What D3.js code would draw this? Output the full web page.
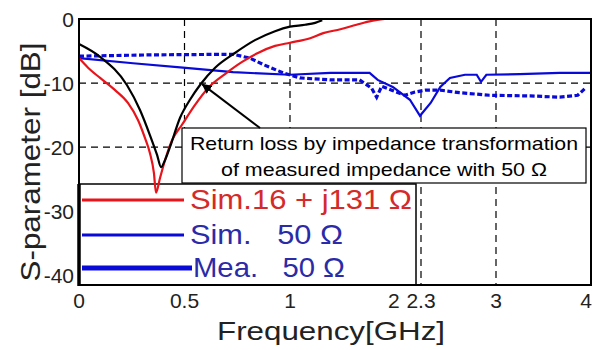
<!DOCTYPE html>
<html>
<head>
<meta charset="utf-8">
<script src="https://cdnjs.cloudflare.com/ajax/libs/d3/7.8.5/d3.min.js"></script>
<style>
body { margin: 0; background: #fff; }
svg text { font-family: "Liberation Sans", Arial, sans-serif; white-space: pre; }
</style>
</head>
<body>
<div id="chart"></div>
<script>
//Tick values and grid positions.
var freqTicks = [0, 0.5, 1, 2, 2.3, 3, 4];
var dbTicks = [0, -10, -20, -30, -40];
var gridFreqs = [0.5, 1, 2.3, 3];
var gridDbs = [-10, -20];

//Return loss by impedance transformation (black).
var transFreq = [0, 0.10, 0.227, 0.289, 0.336, 0.37, 0.389, 0.408, 0.431, 0.479, 0.526, 0.578, 0.645, 0.739, 0.834, 0.929, 1.0, 1.15, 1.25, 1.32];
var transDb = [-3.9, -5.9, -10.3, -14.2, -18.1, -21.2, -23.1, -22.0, -20.0, -15.4, -12.6, -10.1, -7.6, -5.3, -3.3, -1.9, -1.2, -0.9, -0.6, -0.2];

//Sim. 16 + j131 ohm (red).
var simZFreq = [0, 0.043, 0.10, 0.171, 0.232, 0.28, 0.313, 0.336, 0.355, 0.365, 0.384, 0.408, 0.441, 0.488, 0.55, 0.611, 0.692, 0.773, 0.848, 0.929, 1.0, 1.2, 1.33, 1.5, 1.66, 1.81, 1.94];
var simZDb = [-6.1, -7.6, -9.2, -11.1, -13.1, -15.8, -18.6, -20.9, -24.0, -27.1, -24.8, -22.0, -18.9, -16.5, -13.4, -10.8, -8.6, -6.7, -5.3, -4.2, -3.7, -3.0, -2.2, -1.6, -0.9, -0.3, 0];

//Sim. 50 ohm (blue solid).
var sim50Freq = [0, 0.256, 0.493, 0.73, 1.0, 1.4, 1.79, 1.87, 2.02, 2.19, 2.29, 2.39, 2.48, 2.57, 2.71, 2.82, 2.86, 2.91, 3.25, 3.67, 4.0];
var sim50Db = [-6.1, -6.9, -7.6, -8.3, -8.7, -8.4, -8.4, -9.5, -10.6, -12.6, -15.1, -13.1, -10.6, -9.2, -8.7, -8.7, -9.8, -8.7, -8.6, -8.4, -8.4];

//Mea. 50 ohm (blue dashed).
var mea50Freq = [0, 0.336, 0.73, 0.81, 0.88, 0.967, 1.1, 1.4, 1.69, 1.81, 1.86, 1.91, 2.01, 2.14, 2.24, 2.34, 2.48, 2.66, 2.94, 3.36, 3.67, 3.86, 3.94];
var mea50Db = [-5.8, -5.6, -5.5, -6.1, -7.2, -8.4, -9.2, -9.5, -9.5, -10.8, -12.2, -10.5, -11.1, -11.9, -11.4, -11.1, -11.1, -11.5, -11.9, -12.0, -12.2, -11.9, -10.8];

//Legend entries and annotation text.
var legendLabels = ["Sim.16 + j131 \u03A9", "Sim.\u00A0\u00A0 50 \u03A9", "Mea.\u00A0\u00A0 50 \u03A9"];
var noteLines = ["Return loss by impedance transformation", "of measured impedance with 50 \u03A9"];

var width = 599, height = 350;
var red = "#e8141c", blue = "#0a0ad8";

var svg = d3.select("#chart").append("svg")
    .attr("width", width)
    .attr("height", height);

//The frequency axis is stretched below 1 GHz.
var x = d3.scaleLinear().domain([0, 1, 2.3, 3, 4]).range([79, 290, 421, 496, 591]);
var y = d3.scaleLinear().domain([-41.5, 0]).range([285, 19]);

function pts(fs, ds) {
    return fs.map(function(f, i) { return [f, ds[i]]; });
}

var line = d3.line()
    .x(function(d) { return x(d[0]); })
    .y(function(d) { return y(d[1]); });

//Dashed grid.
svg.append("g").selectAll("line")
    .data(gridFreqs)
    .enter().append("line")
    .attr("x1", function(d) { return x(d); })
    .attr("x2", function(d) { return x(d); })
    .attr("y1", y(0)).attr("y2", y(-41.5))
    .attr("stroke", "#000").attr("stroke-width", 1.2)
    .attr("stroke-dasharray", "7,5");

svg.append("g").selectAll("line")
    .data(gridDbs)
    .enter().append("line")
    .attr("x1", x(0)).attr("x2", x(4))
    .attr("y1", function(d) { return y(d); })
    .attr("y2", function(d) { return y(d); })
    .attr("stroke", "#000").attr("stroke-width", 1.2)
    .attr("stroke-dasharray", "7,5");

//Legend box and annotation box.
svg.append("rect")
    .attr("x", 79).attr("y", 184).attr("width", 337).attr("height", 101)
    .attr("fill", "#fff").attr("stroke", "#000").attr("stroke-width", 1.5);

svg.append("rect")
    .attr("x", 182).attr("y", 128).attr("width", 404).attr("height", 55)
    .attr("fill", "#fff").attr("stroke", "#000").attr("stroke-width", 1.2);

svg.append("g").selectAll("text")
    .data(noteLines)
    .enter().append("text")
    .attr("x", 384)
    .attr("y", function(d, i) { return 150 + i * 26; })
    .attr("text-anchor", "middle")
    .attr("font-size", 19)
    .attr("textLength", function(d, i) { return i == 0 ? 388 : 326; })
    .attr("lengthAdjust", "spacingAndGlyphs")
    .text(function(d) { return d; });

//Curves.
svg.append("path")
    .datum(pts(sim50Freq, sim50Db))
    .attr("d", line)
    .attr("fill", "none").attr("stroke", blue).attr("stroke-width", 2.2);

svg.append("path")
    .datum(pts(mea50Freq, mea50Db))
    .attr("d", line)
    .attr("fill", "none").attr("stroke", blue).attr("stroke-width", 3.2)
    .attr("stroke-dasharray", "5,2.5");

svg.append("path")
    .datum(pts(simZFreq, simZDb))
    .attr("d", line.curve(d3.curveMonotoneX))
    .attr("fill", "none").attr("stroke", red).attr("stroke-width", 2.2);

svg.append("path")
    .datum(pts(transFreq, transDb))
    .attr("d", line.curve(d3.curveMonotoneX))
    .attr("fill", "none").attr("stroke", "#000").attr("stroke-width", 2.2);

//Arrow from the note to the -10 dB crossing.
svg.append("defs").append("marker")
    .attr("id", "head")
    .attr("viewBox", "0 0 10 10")
    .attr("refX", 9).attr("refY", 5)
    .attr("markerWidth", 5).attr("markerHeight", 5)
    .attr("orient", "auto")
    .append("path").attr("d", "M0,0L10,5L0,10z").attr("fill", "#000");

svg.append("line")
    .attr("x1", x(0.858)).attr("y1", y(-17.0))
    .attr("x2", x(0.585)).attr("y2", y(-10.2))
    .attr("stroke", "#000").attr("stroke-width", 2)
    .attr("marker-end", "url(#head)");

//Legend rows.
var legendColors = [red, blue, blue];
var legendWidths = [3, 3, 5];
var legendY = [200, 235, 268];
var legendTextLen = [222, 153, 152];

var rows = svg.append("g").selectAll("g")
    .data(legendLabels)
    .enter().append("g");

rows.append("line")
    .attr("x1", 82).attr("x2", function(d, i) { return i == 2 ? 192 : 184; })
    .attr("y1", function(d, i) { return legendY[i]; })
    .attr("y2", function(d, i) { return legendY[i]; })
    .attr("stroke", function(d, i) { return legendColors[i]; })
    .attr("stroke-width", function(d, i) { return legendWidths[i]; });

rows.append("text")
    .attr("x", function(d, i) { return i == 2 ? 193 : 190; })
    .attr("y", function(d, i) { return legendY[i] + 9; })
    .attr("font-size", 28)
    .attr("fill", function(d, i) { return i == 0 ? "#d42a2a" : "#2b2ba8"; })
    .attr("textLength", function(d, i) { return legendTextLen[i]; })
    .attr("lengthAdjust", "spacingAndGlyphs")
    .text(function(d) { return d; });

//Plot frame.
svg.append("rect")
    .attr("x", 79).attr("y", 19).attr("width", 512).attr("height", 266)
    .attr("fill", "none").attr("stroke", "#000").attr("stroke-width", 2);
svg.append("line")
    .attr("x1", 79).attr("x2", 79).attr("y1", 184).attr("y2", 286)
    .attr("stroke", "#000").attr("stroke-width", 3.5);

//Tick labels.
svg.append("g").selectAll("text")
    .data(dbTicks)
    .enter().append("text")
    .attr("x", 74)
    .attr("y", function(d) { return y(d); })
    .attr("dy", "0.36em")
    .attr("text-anchor", "end")
    .attr("font-size", 21)
    .attr("fill", "#222")
    .text(function(d) { return d; });

svg.append("g").selectAll("text")
    .data(freqTicks)
    .enter().append("text")
    .attr("x", function(d) { return d == 4 ? x(d) - 5 : x(d) + (d == 2 ? 3 : 0); })
    .attr("y", 308)
    .attr("text-anchor", "middle")
    .attr("font-size", 21)
    .attr("fill", "#222")
    .text(function(d) { return d; });

//Axis titles.
svg.append("text")
    .attr("x", 217).attr("y", 340)
    .attr("font-size", 26)
    .attr("fill", "#222")
    .attr("textLength", 228)
    .attr("lengthAdjust", "spacingAndGlyphs")
    .text("Frequency[GHz]");

svg.append("text")
    .attr("transform", "translate(40,162) rotate(-90)")
    .attr("text-anchor", "middle")
    .attr("font-size", 28)
    .attr("fill", "#222")
    .attr("textLength", 239)
    .attr("lengthAdjust", "spacingAndGlyphs")
    .text("S-parameter [dB]");
</script>
</body>
</html>
